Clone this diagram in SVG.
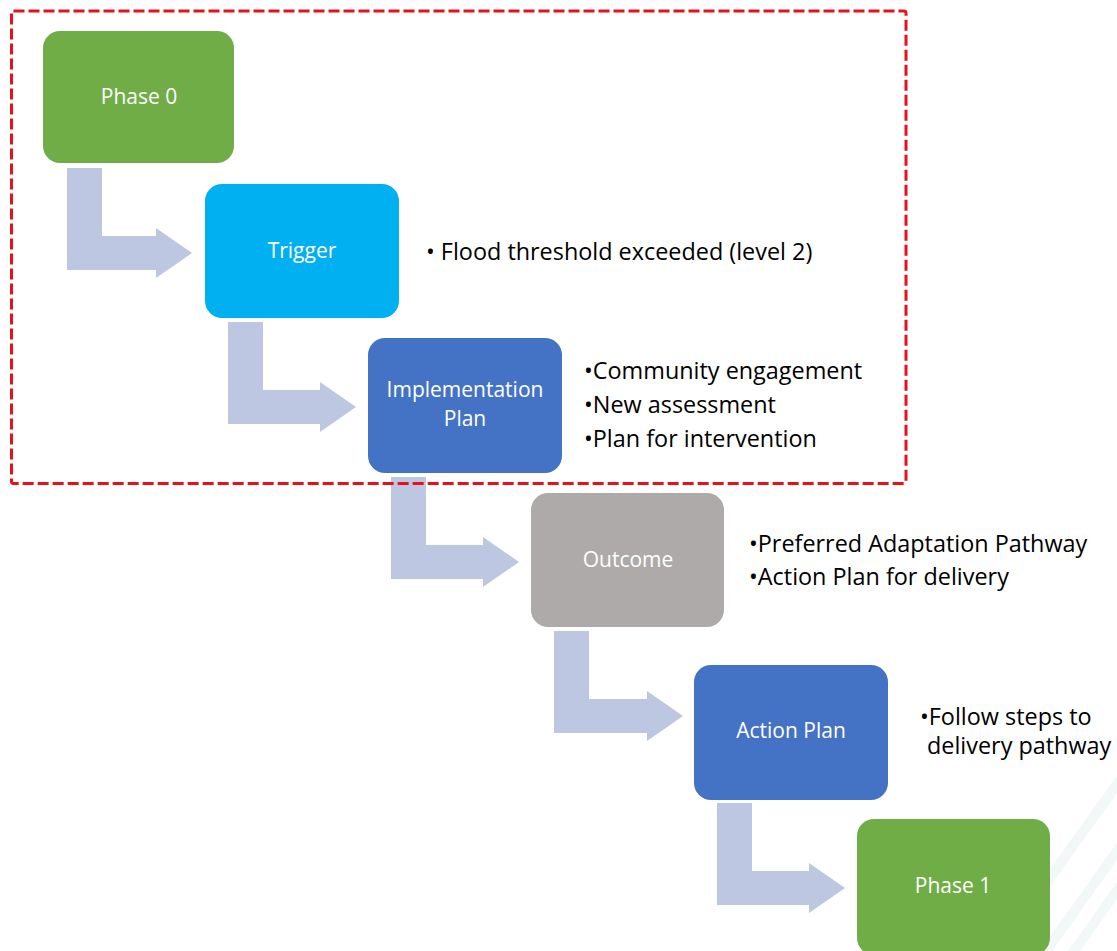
<svg xmlns="http://www.w3.org/2000/svg" width="1117" height="951" viewBox="0 0 1117 951">
<style>
.box{stroke:none}
.lbl{font-family:"Open Sans","Liberation Sans",sans-serif;font-size:21px;fill:#ffffff;text-anchor:middle}
.note{font-family:"Open Sans","Liberation Sans",sans-serif;font-size:23.4px;fill:#000000}
.arr{fill:#bdc7e1}
.stripe{fill:#f2f7f7}
</style>
<rect x="0" y="0" width="1117" height="951" fill="#ffffff"/>
<g id="decor">
<polygon class="stripe" points="1040,951 1052,951 1117,860 1117,843"/>
<polygon class="stripe" points="1068,951 1080,951 1117,899 1117,882"/>
<polygon class="stripe" points="1040,900 1040,883 1117,776 1117,793"/>
</g>
<g id="connectors">
<path class="arr" d="M67,168 H102 V236 H156 V228 L192,253 L156,278 V270 H67 Z"/>
<path class="arr" d="M228,322 H263 V390 H320 V382 L356,407 L320,432 V424 H228 Z"/>
<path class="arr" d="M391,477 H426 V545 H483 V537 L519,562 L483,587 V579 H391 Z"/>
<path class="arr" d="M554,631 H589 V699 H647 V691 L683,716 L647,741 V733 H554 Z"/>
<path class="arr" d="M717,803 H752 V871 H809 V863 L845,888 L809,913 V905 H717 Z"/>
</g>
<g id="phase0">
<rect class="box" x="43" y="31" width="191" height="132" rx="17" fill="#70ad47"/>
<text class="lbl" x="139" y="104">Phase 0</text>
</g>
<g id="trigger">
<rect class="box" x="205" y="184" width="194" height="134" rx="17" fill="#00b0f0"/>
<text class="lbl" x="302" y="258">Trigger</text>
</g>
<g id="implementation">
<rect class="box" x="368" y="338" width="194" height="135" rx="17" fill="#4472c4"/>
<text class="lbl" x="465" y="397">Implementation</text>
<text class="lbl" x="465" y="426">Plan</text>
</g>
<g id="outcome">
<rect class="box" x="531" y="493" width="193" height="134" rx="17" fill="#aeaaaa"/>
<text class="lbl" x="628" y="567">Outcome</text>
</g>
<g id="actionplan">
<rect class="box" x="694" y="665" width="194" height="135" rx="17" fill="#4472c4"/>
<text class="lbl" x="791" y="738">Action Plan</text>
</g>
<g id="phase1">
<rect class="box" x="857" y="819" width="193" height="136" rx="17" fill="#70ad47"/>
<text class="lbl" x="953" y="893">Phase 1</text>
</g>
<g id="scope">
<rect x="11.5" y="11" width="894.5" height="472.5" rx="2" fill="none" stroke="#e8111a" stroke-width="3" stroke-dasharray="11 4"/>
</g>
<g id="notes">
<text class="note" x="426" y="260">• Flood threshold exceeded (level 2)</text>
<text class="note" x="584" y="379">•Community engagement</text>
<text class="note" x="584" y="413">•New assessment</text>
<text class="note" x="584" y="447">•Plan for intervention</text>
<text class="note" x="749" y="552">•Preferred Adaptation Pathway</text>
<text class="note" x="749" y="585">•Action Plan for delivery</text>
<text class="note" x="920" y="725">•Follow steps to</text>
<text class="note" x="927" y="754">delivery pathway</text>
</g>
</svg>
